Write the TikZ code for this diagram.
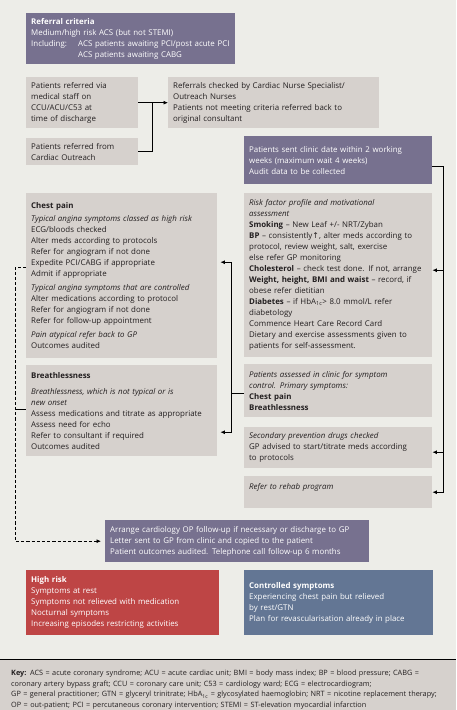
\documentclass[tikz,border=0pt]{standalone}
\usepackage{fontspec}
\setmainfont{Open Sans}
\newfontfamily\arrowfont{DejaVu Sans}
\usetikzlibrary{arrows.meta,positioning,calc}
\definecolor{pagebg}{HTML}{EDEDE8}
\definecolor{boxgrey}{HTML}{D6D1CD}
\definecolor{stagepurple}{HTML}{77718F}
\definecolor{riskred}{HTML}{BE4545}
\definecolor{controlblue}{HTML}{637694}
\definecolor{inkdark}{HTML}{231F20}
\tikzset{
  box/.style={fill=boxgrey,anchor=north west,align=left,inner xsep=5pt,inner ysep=3pt,text=inkdark,font=\fontsize{7.9}{11}\selectfont},
  stagebox/.style={box,fill=stagepurple,text=white},
  riskbox/.style={box,fill=riskred,text=white},
  controlbox/.style={box,fill=controlblue,text=white},
  keybox/.style={box,inner xsep=11pt,inner ysep=11pt,font=\fontsize{7.3}{10.6}\selectfont},
  link/.style={line width=0.75pt,draw=black},
  flow/.style={link,-{Latex[length=4.5pt,width=4pt]}},
  dashflow/.style={flow,dash pattern=on 3.2pt off 2pt}
}

\begin{document}
\begin{tikzpicture}[x=1pt,y=-1pt]
  \useasboundingbox (0,0) rectangle (456,710);
  \fill[pagebg] (0,0) rectangle (456,710);
  \node[stagebox,text width=199pt,minimum height=51pt] (criteria) at (26,13) {\textbf{Referral criteria}\\Medium/high risk ACS (but not STEMI)\\\makebox[47pt][l]{Including:}ACS patients awaiting PCI/post acute PCI\\\hspace*{47pt}ACS patients awaiting CABG};
  \node[box,text width=102pt,minimum height=51pt] (staff) at (26,77) {Patients referred via\\medical staff on\\CCU/ACU/C53 at\\time of discharge};
  \node[box,text width=102pt,minimum height=27pt] (outreach) at (26,138) {Patients referred from\\Cardiac Outreach};
  \node[box,text width=201pt,minimum height=51pt] (referrals) at (168,77) {Referrals checked by Cardiac Nurse Specialist/\\Outreach Nurses\\Patients not meeting criteria referred back to\\original consultant};
  \node[stagebox,text width=178pt,minimum height=48pt] (clinic) at (244,136) {Patients sent clinic date within 2 working\\weeks (maximum wait 4 weeks)\\Audit data to be collected};
  \node[box,text width=178pt,minimum height=164pt] (risk) at (244,193) {\textit{Risk factor profile and motivational}\\\textit{assessment}\\\textbf{Smoking} – New Leaf +/- NRT/Zyban\\\textbf{BP} – consistently{\arrowfont ↑}, alter meds according to\\protocol, review weight, salt, exercise\\else refer GP monitoring\\\textbf{Cholesterol} – check test done. If not, arrange\\\textbf{Weight, height, BMI and waist} – record, if\\obese refer dietitian\\\textbf{Diabetes} – if HbA\textsubscript{1c}> 8.0 mmol/L refer\\diabetology\\Commence Heart Care Record Card\\Dietary and exercise assessments given to\\patients for self-assessment.};
  \node[box,text width=178pt,minimum height=53pt] (assessed) at (244,364) {\textit{Patients assessed in clinic for symptom}\\\textit{control. Primary symptoms:}\\\textbf{Chest pain}\\\textbf{Breathlessness}};
  \node[box,text width=178pt,minimum height=41pt] (secondary) at (244,427) {\textit{Secondary prevention drugs checked}\\GP advised to start/titrate meds according\\to protocols};
  \node[box,text width=178pt,minimum height=32pt] (rehab) at (244,476) {\textit{Refer to rehab program}\\\mbox{}};
  \node[box,text width=181pt,minimum height=165pt] (chest) at (26,193) {\textbf{Chest pain}\\[2.5pt]\textit{Typical angina symptoms classed as high risk}\\ECG/bloods checked\\Alter meds according to protocols\\Refer for angiogram if not done\\Expedite PCI/CABG if appropriate\\Admit if appropriate\\[3pt]\textit{Typical angina symptoms that are controlled}\\Alter medications according to protocol\\Refer for angiogram if not done\\Refer for follow-up appointment\\[3pt]\textit{Pain atypical refer back to GP}\\Outcomes audited};
  \node[box,text width=181pt,minimum height=91pt] (breath) at (26,365) {\textbf{Breathlessness}\\[5pt]\textit{Breathlessness, which is not typical or is}\\\textit{new onset}\\Assess medications and titrate as appropriate\\Assess need for echo\\Refer to consultant if required\\Outcomes audited};
  \node[stagebox,text width=254pt,minimum height=42pt] (arrange) at (105,520) {Arrange cardiology OP follow-up if necessary or discharge to GP\\Letter sent to GP from clinic and copied to the patient\\Patient outcomes audited. Telephone call follow-up 6 months};
  \node[riskbox,text width=183pt,minimum height=65pt] (highrisk) at (26,570) {\textbf{High risk}\\Symptoms at rest\\Symptoms not relieved with medication\\Nocturnal symptoms\\Increasing episodes restricting activities};
  \node[controlbox,text width=179pt,minimum height=65pt] (controlled) at (244,570) {\textbf{Controlled symptoms}\\Experiencing chest pain but relieved\\by rest/GTN\\Plan for revascularisation already in place};
  \node[keybox,text width=434pt] (key) at (0,659) {\textbf{Key:} ACS = acute coronary syndrome; ACU = acute cardiac unit; BMI = body mass index; BP = blood pressure; CABG =\\coronary artery bypass graft; CCU = coronary care unit; C53 = cardiology ward; ECG = electrocardiogram;\\GP = general practitioner; GTN = glyceryl trinitrate; HbA\textsubscript{1c} = glycosylated haemoglobin; NRT = nicotine replacement therapy;\\OP = out-patient; PCI = percutaneous coronary intervention; STEMI = ST-elevation myocardial infarction};
  \draw[line width=1pt] (key.north west) -- (key.north east);

  \draw[flow] (staff.east) -- (referrals.west);
  \draw[link] (outreach.east) -| ([xshift=14pt]staff.east);

  \coordinate (rtrunk) at ([xshift=11pt,yshift=-6pt]clinic.east);
  \coordinate (riskin) at ([yshift=5pt]risk.east);
  \coordinate (secin) at ([yshift=-4.5pt]secondary.east);
  \draw[link] ([yshift=-6pt]clinic.east) -- (rtrunk);
  \draw[flow] (rtrunk) |- (riskin);
  \draw[flow] (rtrunk) |- (secin);
  \draw[flow] (rtrunk) |- (rehab.east);

  \coordinate (ltrunk) at ([xshift=-13pt,yshift=-2.5pt]assessed.west);
  \coordinate (chestin) at ([yshift=13.5pt]chest.east);
  \coordinate (breathin) at ([yshift=-21.5pt]breath.east);
  \draw[link] ([yshift=-2.5pt]assessed.west) -- (ltrunk);
  \draw[flow,shorten >=3pt] (ltrunk) |- (chestin);
  \draw[flow,shorten >=3pt] (ltrunk) |- (breathin);

  \coordinate (chestout) at ([yshift=8.5pt]chest.west);
  \coordinate (dashcorner) at ([xshift=-11pt]chestout);
  \coordinate (breathout) at ([yshift=1.5pt]breath.west);
  \draw[dashflow,shorten >=4pt] (chestout) -- (dashcorner) |- (arrange.west);
  \draw[link] (dashcorner |- breathout) -- (breathout);
\end{tikzpicture}
\end{document}
